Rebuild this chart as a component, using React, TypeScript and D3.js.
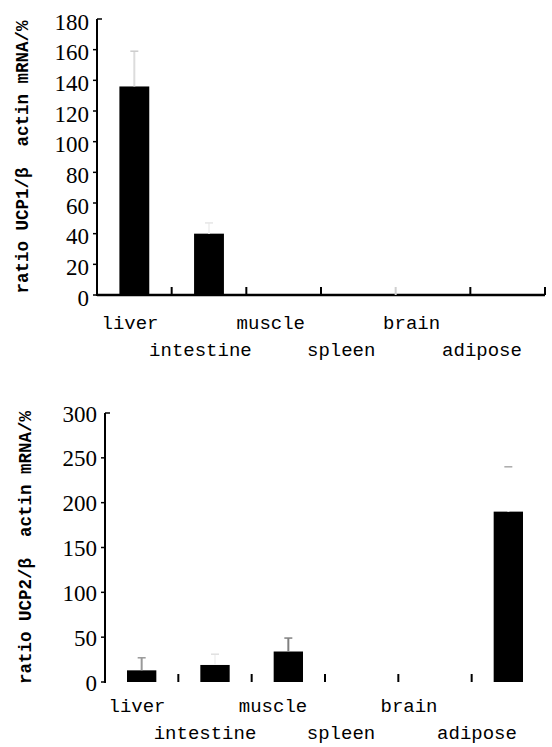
import React, { useEffect, useRef } from 'react';
import * as d3 from 'd3';

const categories = ['liver', 'intestine', 'muscle', 'spleen', 'brain', 'adipose'];

// UCP1 / beta-actin mRNA (%)
const ucp1Values = [136, 40, 0, 0, 0, 0];
const ucp1Errors = [23, 7, 0, 0, 0, 0];
const ucp1Ticks = [0, 20, 40, 60, 80, 100, 120, 140, 160, 180];

// UCP2 / beta-actin mRNA (%)
const ucp2Values = [13, 19, 34, 0, 0, 190];
const ucp2Errors = [14, 12, 15, 0, 0, 50];
const ucp2Ticks = [0, 50, 100, 150, 200, 250, 300];

// error bar colours, as they come out in the scan
const ucp1ErrStem = ['#dcdcdc', '#f2f2f2', 'none', 'none', 'none', 'none'];
const ucp1ErrCap = ['#cccccc', '#e6e6e6', 'none', 'none', 'none', 'none'];
const ucp2ErrStem = ['#999999', '#f4f4f4', '#808080', 'none', 'none', '#ffffff'];
const ucp2ErrCap = ['#999999', '#e0e0e0', '#808080', 'none', 'none', '#aaaaaa'];

const MONO = '"Liberation Mono", "DejaVu Sans Mono", monospace';
const SERIF = '"Liberation Serif", "DejaVu Serif", serif';

interface PanelOpts {
  values: number[];
  errors: number[];
  ticks: number[];
  stem: string[];
  cap: string[];
  title: string;
  x0: number;
  x1: number;
  yTop: number;
  yZero: number;
  labelRange: [number, number];
  row1: number;
  row2: number;
  titleX: number;
  xAxisLine: boolean;
  endTick: boolean;
  lightTick: number;
  labelDy: number;
}

const App: React.FC = () => {
  const svgRef = useRef<SVGSVGElement>(null);

  useEffect(() => {
    if (!svgRef.current) return;
    const svg = d3.select(svgRef.current);
    svg.selectAll('*').remove();

    const drawPanel = (o: PanelOpts) => {
      const g = svg.append('g');
      const x = d3.scaleBand<string>().domain(categories).range([o.x0, o.x1]).paddingInner(0.6).paddingOuter(0.3);
      const y = d3.scaleLinear().domain([0, o.ticks[o.ticks.length - 1]]).range([o.yZero, o.yTop]);
      const step = x.step();

      // bars
      g.selectAll('.bar')
        .data(o.values)
        .enter()
        .append('rect')
        .attr('x', (d, i) => x(categories[i])!)
        .attr('y', d => y(d))
        .attr('width', x.bandwidth())
        .attr('height', d => y(0) - y(d))
        .attr('fill', '#000');

      // error bars (upper half only)
      o.values.forEach((v, i) => {
        if (o.errors[i] <= 0) return;
        const cx = x(categories[i])! + x.bandwidth() / 2;
        g.append('line')
          .attr('x1', cx).attr('x2', cx)
          .attr('y1', y(v)).attr('y2', y(v + o.errors[i]))
          .attr('stroke', o.stem[i]).attr('stroke-width', 2);
        g.append('line')
          .attr('x1', cx - 4).attr('x2', cx + 4)
          .attr('y1', y(v + o.errors[i])).attr('y2', y(v + o.errors[i]))
          .attr('stroke', o.cap[i]).attr('stroke-width', 1.5);
      });

      // y axis
      g.append('line')
        .attr('x1', o.x0).attr('x2', o.x0)
        .attr('y1', y(o.ticks[o.ticks.length - 1])).attr('y2', y(0) + 1)
        .attr('stroke', '#000').attr('stroke-width', 2);
      o.ticks.forEach((t, i) => {
        const last = i === o.ticks.length - 1;
        g.append('line')
          .attr('x1', last ? o.x0 : o.x0 - 4).attr('x2', last ? o.x0 + 5 : o.x0)
          .attr('y1', y(t)).attr('y2', y(t))
          .attr('stroke', '#000').attr('stroke-width', 1.5);
        g.append('text')
          .attr('x', o.x0 - 8)
          .attr('y', y(t) + o.labelDy)
          .attr('text-anchor', 'end')
          .attr('dominant-baseline', 'central')
          .attr('font-family', SERIF)
          .attr('font-size', 23)
          .attr('fill', '#000')
          .text(t);
      });

      // x axis
      if (o.xAxisLine) {
        g.append('line')
          .attr('x1', o.x0).attr('x2', o.x1)
          .attr('y1', y(0)).attr('y2', y(0))
          .attr('stroke', '#000').attr('stroke-width', 2.5);
      }
      const nTicks = o.endTick ? categories.length : categories.length - 1;
      for (let i = 1; i <= nTicks; i++) {
        const tx = o.x0 + step * i;
        g.append('line')
          .attr('x1', tx).attr('x2', tx)
          .attr('y1', y(0)).attr('y2', y(0) - 8)
          .attr('stroke', i === o.lightTick ? '#cfcfcf' : '#000')
          .attr('stroke-width', 2);
      }

      // category labels, staggered on two rows
      const lx = d3.scaleLinear().domain([0, categories.length - 1]).range(o.labelRange);
      categories.forEach((c, i) => {
        g.append('text')
          .attr('x', lx(i))
          .attr('y', i % 2 === 0 ? o.row1 : o.row2)
          .attr('text-anchor', 'middle')
          .attr('font-family', MONO)
          .attr('font-size', 19)
          .attr('fill', '#000')
          .text(c);
      });

      // y title
      const my = (y(0) + y(o.ticks[o.ticks.length - 1])) / 2;
      g.append('text')
        .attr('transform', `translate(${o.titleX}, ${my}) rotate(-90)`)
        .attr('text-anchor', 'middle')
        .attr('dominant-baseline', 'central')
        .attr('font-family', MONO)
        .attr('font-weight', 'bold')
        .attr('font-size', 17.5)
        .attr('fill', '#000')
        .attr('xml:space', 'preserve')
        .style('white-space', 'pre')
        .text(o.title);
    };

    drawPanel({
      values: ucp1Values, errors: ucp1Errors, ticks: ucp1Ticks,
      stem: ucp1ErrStem, cap: ucp1ErrCap,
      title: 'ratio UCP1/β  actin mRNA/%',
      x0: 97, x1: 545, yTop: 19, yZero: 295,
      labelRange: [130, 482], row1: 329, row2: 356, titleX: 23,
      xAxisLine: true, endTick: true, lightTick: 4, labelDy: 3,
    });

    drawPanel({
      values: ucp2Values, errors: ucp2Errors, ticks: ucp2Ticks,
      stem: ucp2ErrStem, cap: ucp2ErrCap,
      title: 'ratio UCP2/β  actin mRNA/%',
      x0: 105, x1: 545, yTop: 413, yZero: 682,
      labelRange: [137, 477], row1: 712, row2: 739, titleX: 26,
      xAxisLine: false, endTick: false, lightTick: -1, labelDy: 1,
    });
  }, []);

  return (
    <svg
      ref={svgRef}
      width={552}
      height={747}
      style={{ position: 'absolute', left: 0, top: 0, background: '#fff' }}
    />
  );
};

export default App;
